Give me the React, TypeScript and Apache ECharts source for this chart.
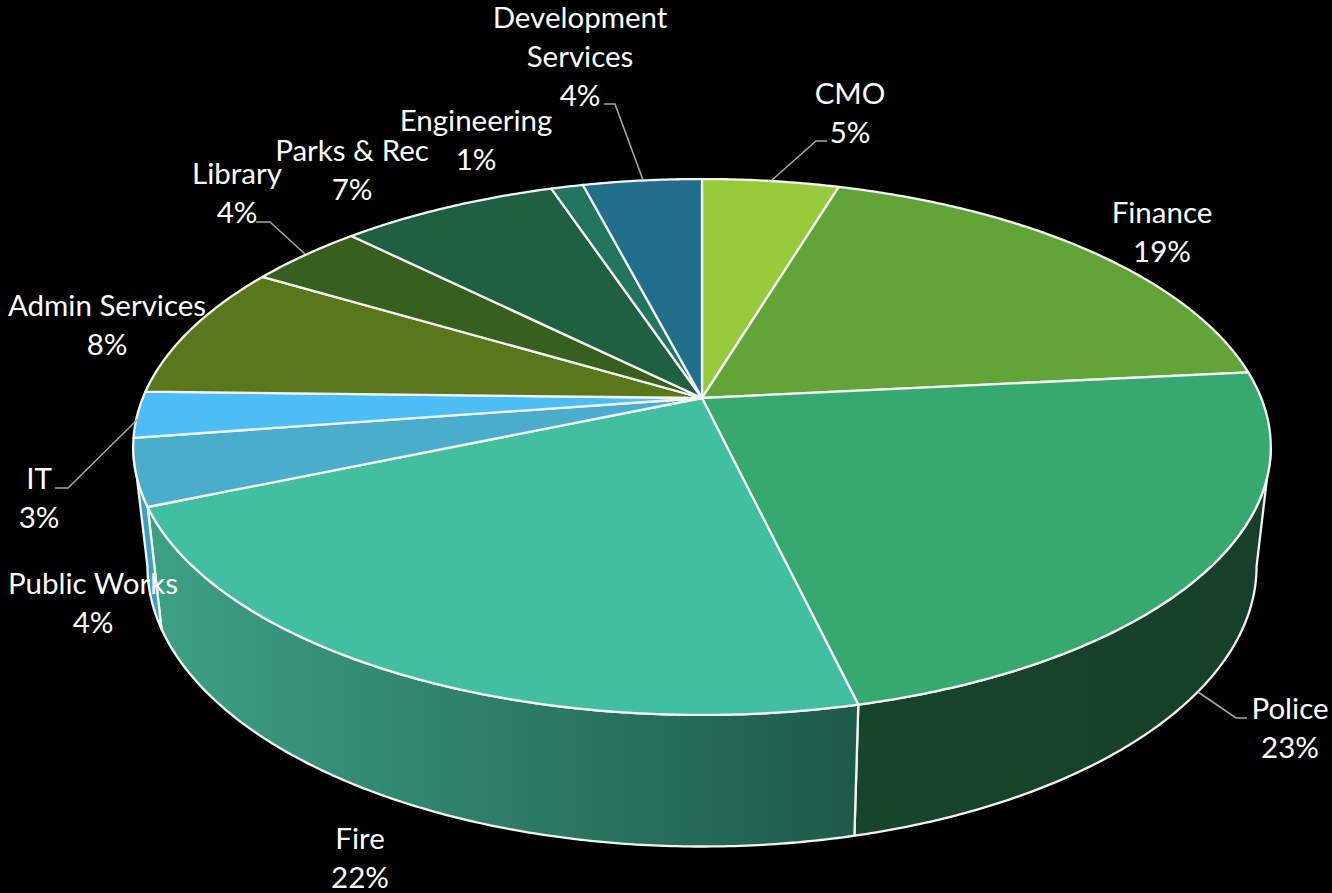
import React, { useEffect, useRef } from "react";
import * as echarts from "echarts";

// ---- data ----
const categories = ["CMO", "Finance", "Police", "Fire", "Public Works", "IT", "Admin Services", "Library", "Parks & Rec", "Engineering", "Development Services"];
const labelLines = ["CMO", "Finance", "Police", "Fire", "Public Works", "IT", "Admin Services", "Library", "Parks & Rec", "Engineering", "Development\nServices"];
const values = [4.64, 18.75, 22.92, 22.3, 4.0, 2.78, 8.15, 3.94, 7.4, 1.09, 4.03];

// ---- styles ----
const topColors = ["#99CA3C", "#62A438", "#36A870", "#41BFA0", "#49ADCB", "#4CBEF5", "#5B771C", "#375F1E", "#1F6042", "#24755F", "#216F8A"];
const sideStops: Record<number, [number, string, string]> = {
  2: [853, "#17452C", "#173F29"],
  3: [162, "#3CA084", "#1E5A4C"],
  4: [140, "#3F9FBC", "#3F9FBC"],
};

// ---- layout ----
const W = 1332, H = 893;
const CX = 702, CY = 398;
const RX = 559.2, RY = 259, K = 0.1828;
const BOTTOM_SX = 0.975, BOTTOM_SY = 1.046, BOTTOM_DY = 117;
const labelPos: [number, number][] = [
  [850, 92], [1162, 211], [1290, 707], [360, 837], [93, 582], [39, 477],
  [107, 304], [237, 172], [352, 149], [476, 119], [580, 16],
];
const LINE_H = 39;
const leaders: [number, number][][] = [
  [[827, 141], [816, 141], [772, 180]],
  [[1247, 718], [1236, 718], [1198, 692]],
  [[55, 488], [68, 488], [141, 416]],
  [[256, 222], [270, 222], [305, 254]],
  [[604, 104], [615, 104], [643, 180]],
];

function topPoint(deg: number): [number, number] {
  const t = (deg * Math.PI) / 180;
  const u = Math.sin(t), v = -Math.cos(t);
  const d = 1 - K * v;
  return [CX + (RX * u) / d, CY + (RY * v) / d];
}
function bottomPoint(deg: number): [number, number] {
  const [x, y] = topPoint(deg);
  return [CX + BOTTOM_SX * (x - CX), CY + BOTTOM_DY + BOTTOM_SY * (y - CY)];
}
function arc(fn: (d: number) => [number, number], a: number, b: number) {
  const n = Math.max(2, Math.ceil(Math.abs(b - a) * 2));
  const pts: [number, number][] = [];
  for (let i = 0; i <= n; i++) pts.push(fn(a + ((b - a) * i) / n));
  return pts;
}
const total = values.reduce((s, v) => s + v, 0);
function range(i: number): [number, number] {
  let acc = 0;
  for (let j = 0; j < i; j++) acc += values[j];
  return [(acc / total) * 360, ((acc + values[i]) / total) * 360];
}
const FRONT_A = 100.5, FRONT_B = 259.5;

export default function App() {
  const ref = useRef<HTMLDivElement>(null);
  useEffect(() => {
    document.body.style.margin = "0";
    document.body.style.background = "#000";
    const chart = echarts.init(ref.current!, null, { renderer: "svg" });
    const stroke = { stroke: "#F2F2F2", lineWidth: 2.3, lineJoin: "round" as const };
    chart.setOption({
      animation: false,
      backgroundColor: "#000000",
      series: [
        {
          type: "custom",
          coordinateSystem: "none",
          silent: true,
          data: values,
          renderItem: (p: any) => {
            const i = p.dataIndex;
            const [a0, b0] = range(i);
            const a = Math.max(a0, FRONT_A), b = Math.min(b0, FRONT_B);
            if (b <= a) return { type: "group", children: [] };
            const s = sideStops[i];
            const fill = s
              ? new echarts.graphic.LinearGradient(
                  i === 2 ? 853 : 162, 0, i === 2 ? 1258 : 853, 0,
                  [{ offset: 0, color: s[1] }, { offset: 1, color: s[2] }], true)
              : topColors[i];
            const pts = [...arc(topPoint, a, b), ...arc(bottomPoint, a, b).reverse()];
            return { type: "polygon", shape: { points: pts }, style: { fill, ...stroke } };
          },
        },
        {
          type: "custom",
          coordinateSystem: "none",
          silent: true,
          data: values,
          renderItem: (p: any) => {
            const i = p.dataIndex;
            const [a, b] = range(i);
            const pts = [[CX, CY], ...arc(topPoint, a, b)];
            return { type: "polygon", shape: { points: pts }, style: { fill: topColors[i], ...stroke } };
          },
        },
        {
          type: "custom",
          coordinateSystem: "none",
          silent: true,
          data: leaders.map((_, i) => i),
          renderItem: (p: any) => ({
            type: "polyline",
            shape: { points: leaders[p.dataIndex] },
            style: { fill: "none", stroke: "#A6A6A6", lineWidth: 1.6 },
          }),
        },
        {
          type: "custom",
          coordinateSystem: "none",
          silent: true,
          data: categories,
          renderItem: (p: any) => {
            const i = p.dataIndex;
            const [x, y] = labelPos[i];
            const lines = `${labelLines[i]}\n${Math.round(values[i])}%`.split("\n");
            return {
              type: "group",
              children: lines.map((line, k) => ({
                type: "text",
                x,
                y: y + k * LINE_H,
                style: {
                  text: line,
                  fill: "#FFFFFF",
                  fontFamily: "Lato",
                  fontSize: 29.5,
                  lineHeight: 30,
                  align: "center",
                  verticalAlign: "middle",
                },
              })),
            };
          },
        },
      ],
    });
    return () => chart.dispose();
  }, []);
  return <div ref={ref} style={{ position: "absolute", left: 0, top: 0, width: W, height: H, background: "#000" }} />;
}
